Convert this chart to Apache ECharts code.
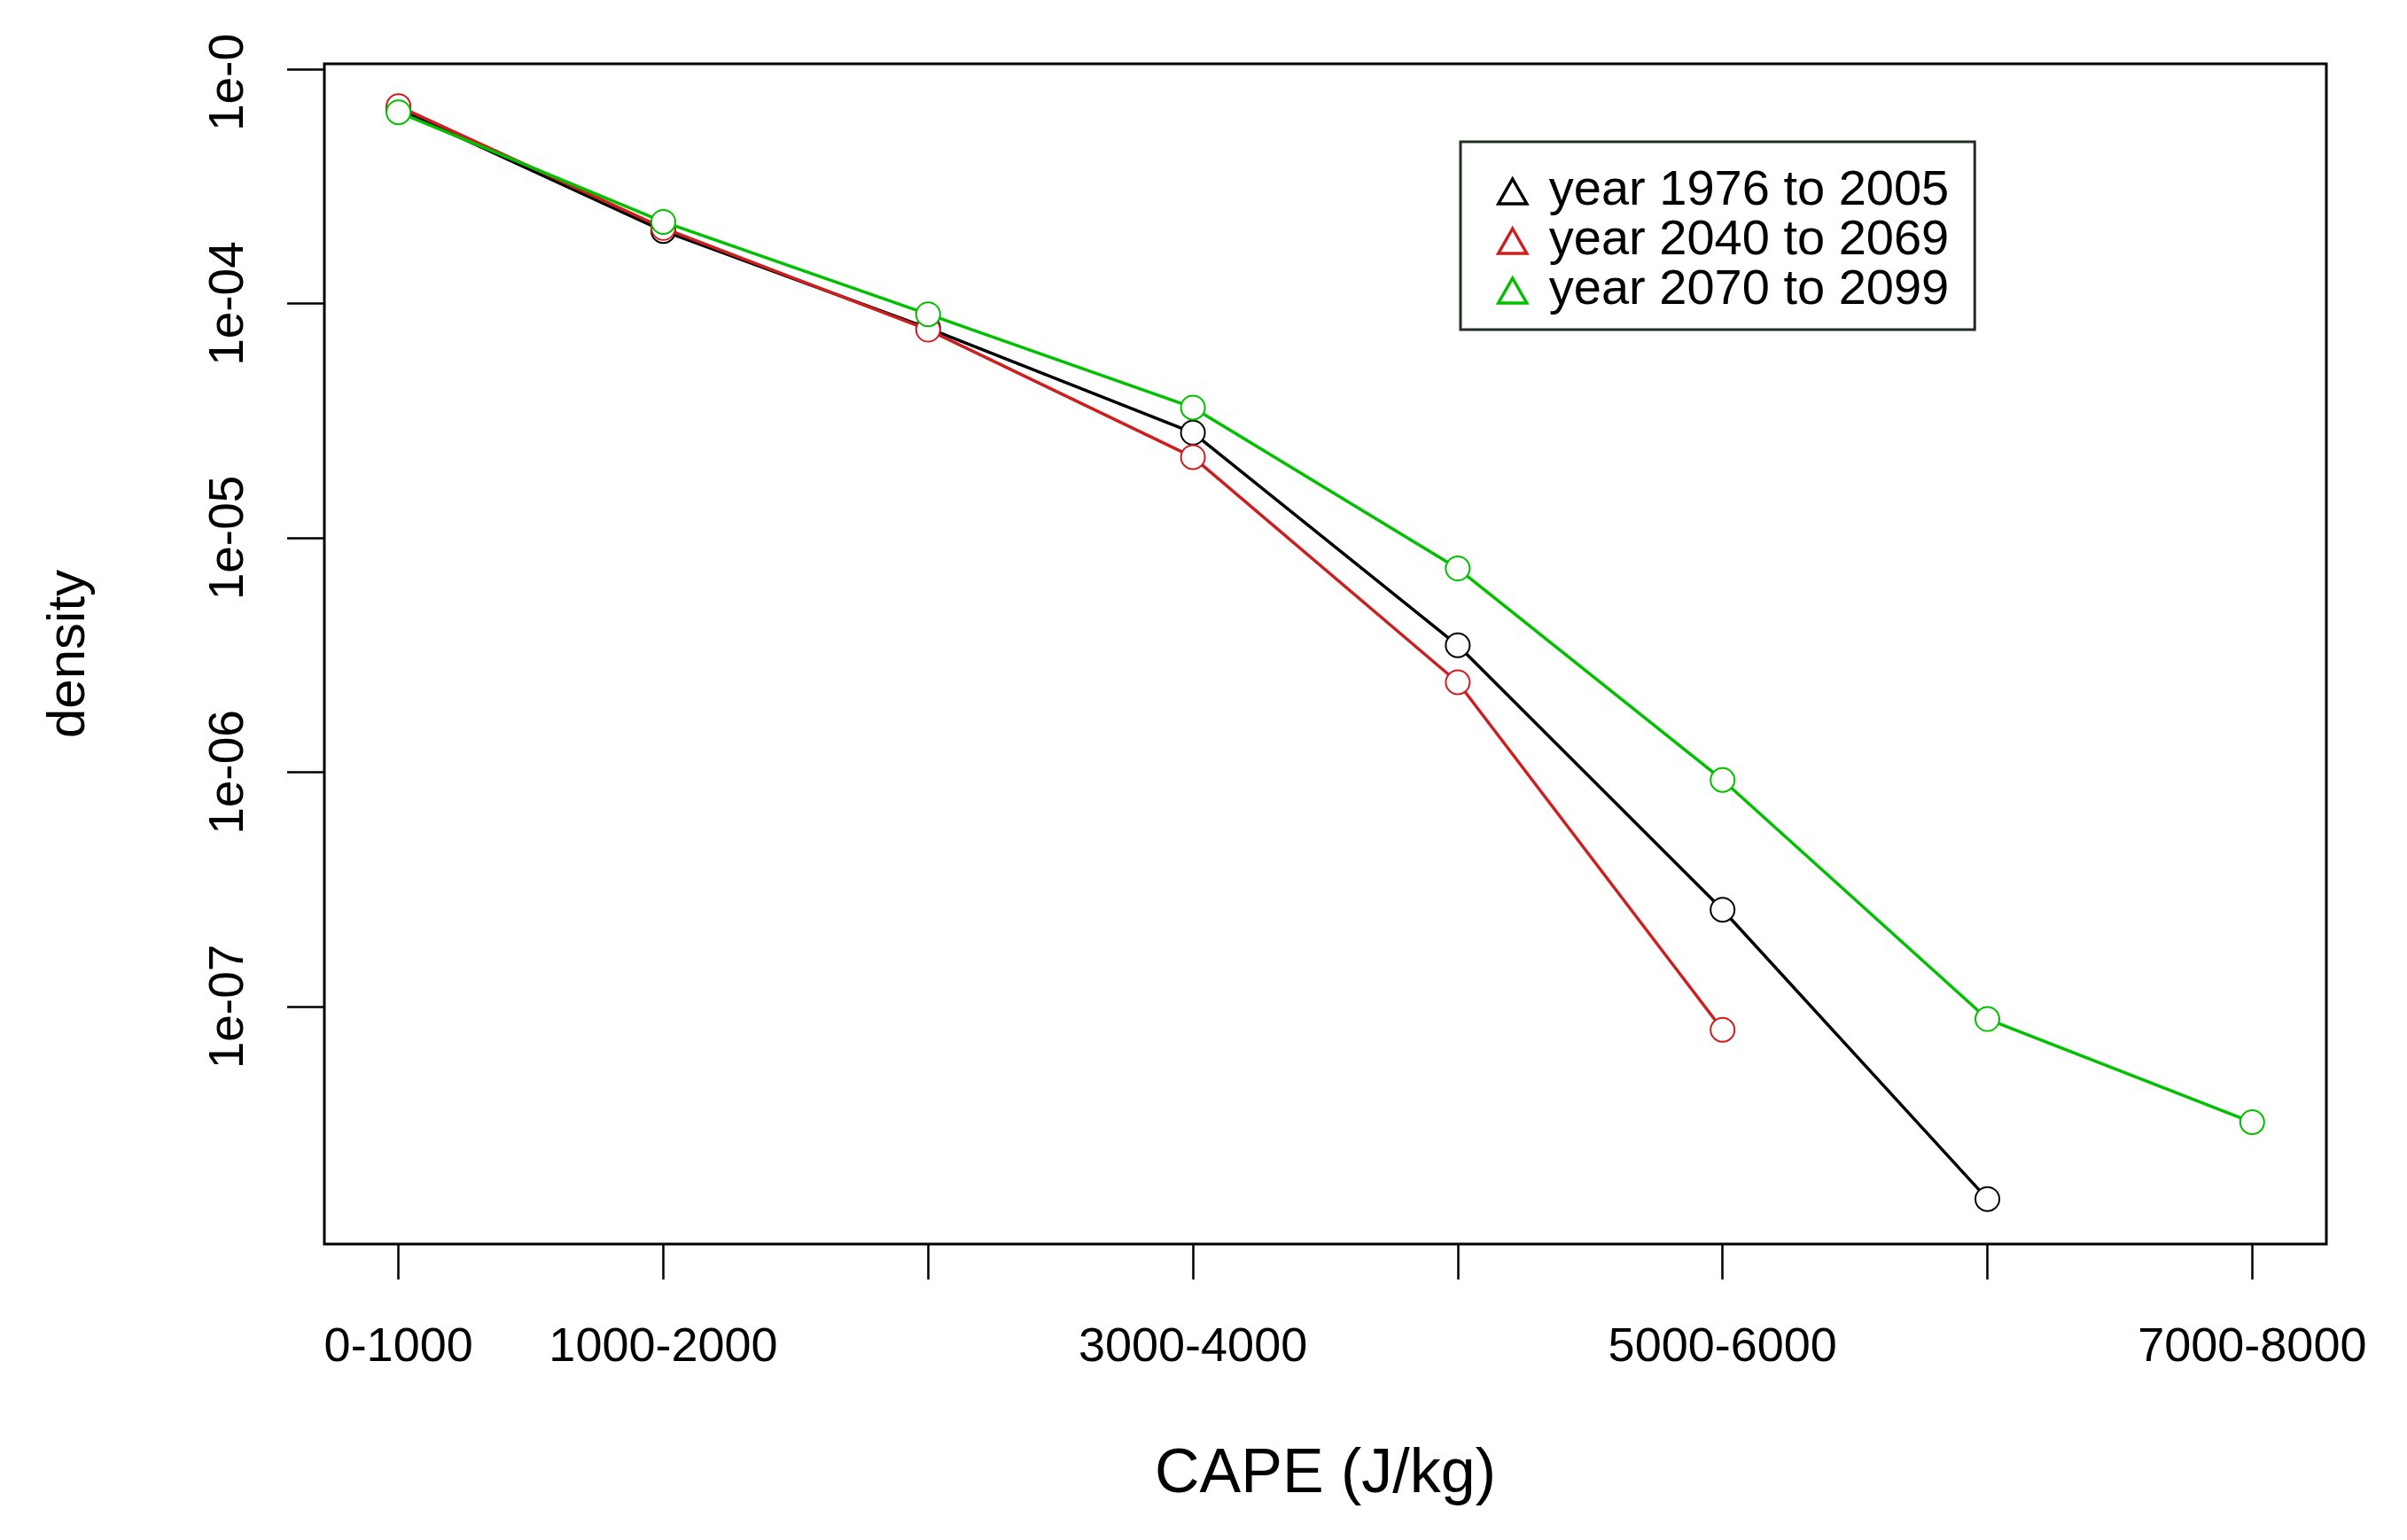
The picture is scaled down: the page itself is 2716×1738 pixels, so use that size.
<!DOCTYPE html>
<html>
<head>
<meta charset="utf-8">
<script src="https://cdn.jsdelivr.net/npm/echarts@6/dist/echarts.min.js"></script>
<style>
html,body{margin:0;padding:0;background:#fff;}
#chart{width:2716px;height:1738px;}
</style>
</head>
<body>
<div id="chart"></div>
<script>
// ---- data ----
const categories = ['0-1000','1000-2000','2000-3000','3000-4000','4000-5000','5000-6000','6000-7000','7000-8000'];
const shownLabelIdx = [0, 1, 3, 5, 7];
const seriesNames = ['year 1976 to 2005', 'year 2040 to 2069', 'year 2070 to 2099'];
const seriesColors = ['#000000', '#cc1f1f', '#00c000'];
const values1976 = [6.75e-4, 2.04e-4, 7.85e-5, 2.81e-5, 3.48e-6, 2.59e-7, 1.51e-8];
const values2040 = [6.95e-4, 2.10e-4, 7.73e-5, 2.21e-5, 2.42e-6, 7.96e-8];
const values2070 = [6.55e-4, 2.23e-4, 9.00e-5, 3.60e-5, 7.40e-6, 9.27e-7, 8.85e-8, 3.21e-8];
const yTickValues = [1e-3, 1e-4, 1e-5, 1e-6, 1e-7];
const yTickLabels = ['1e-0', '1e-04', '1e-05', '1e-06', '1e-07'];

const allSeries = [values1976, values2040, values2070];
const FONT = "'Liberation Sans', Arial, sans-serif";

const chart = echarts.init(document.getElementById('chart'), null, {renderer: 'canvas'});

function yLabel(v) {
  for (let i = 0; i < yTickValues.length; i++) {
    if (Math.abs(Math.log10(v) - Math.log10(yTickValues[i])) < 1e-6) {
      return i === 0 ? '{t|' + yTickLabels[i] + '}' : yTickLabels[i];
    }
  }
  return '';
}

const option = {
  backgroundColor: '#ffffff',
  animation: false,
  grid: {
    left: 366, right: 91, top: 72, bottom: 334,
    show: true, borderColor: '#000', borderWidth: 3, backgroundColor: 'transparent'
  },
  legend: {
    orient: 'vertical',
    left: 1648, top: 160,
    padding: [28, 29, 16, 41],
    backgroundColor: '#ffffff',
    borderColor: '#203020',
    borderWidth: 3,
    itemWidth: 32, itemHeight: 28,
    itemGap: 0,
    textStyle: {fontFamily: FONT, fontSize: 56, color: '#000', lineHeight: 54, padding: [0, 0, 0, 20]},
    data: seriesNames.map((n, i) => ({
      name: n, icon: 'triangle',
      itemStyle: {color: 'rgba(255,255,255,0)', borderColor: seriesColors[i], borderWidth: 3.5}
    }))
  },
  xAxis: {
    type: 'value',
    min: -0.28, max: 7.28,
    name: 'CAPE (J/kg)',
    nameLocation: 'middle',
    nameGap: 226,
    nameTextStyle: {fontFamily: FONT, fontSize: 70, color: '#000'},
    axisLine: {show: false, onZero: false},
    splitLine: {show: false},
    axisTick: {show: true, inside: false, length: 40, lineStyle: {color: '#000', width: 2.5},
      customValues: categories.map((c, i) => i)},
    axisLabel: {
      show: true, margin: 90, fontFamily: FONT, fontSize: 54, color: '#000',
      customValues: shownLabelIdx,
      formatter: v => categories[Math.round(v)] || ''
    }
  },
  yAxis: {
    type: 'log',
    logBase: 10,
    min: 9.7e-9, max: 1.054e-3,
    name: 'density',
    nameLocation: 'middle',
    nameGap: 258,
    nameTextStyle: {fontFamily: FONT, fontSize: 60, color: '#000'},
    axisLine: {show: false, onZero: false},
    splitLine: {show: false},
    axisTick: {show: true, inside: false, length: 42, lineStyle: {color: '#000', width: 2.5},
      customValues: yTickValues},
    axisLabel: {
      show: true, rotate: 90, margin: 80, fontFamily: FONT, fontSize: 55, color: '#000',
      customValues: yTickValues,
      formatter: yLabel,
      rich: {t: {fontFamily: FONT, fontSize: 55, color: '#000', padding: [0, 30, 0, 0]}}
    }
  },
  series: allSeries.map((vals, si) => ({
    name: seriesNames[si],
    type: 'line',
    data: vals.map((v, i) => [i, v]),
    symbol: 'emptyCircle',
    symbolSize: 27,
    showAllSymbol: true,
    lineStyle: {color: seriesColors[si], width: 3.5},
    itemStyle: {color: seriesColors[si], borderColor: seriesColors[si], borderWidth: 3.5},
    z: 2 + si
  }))
};
chart.setOption(option);
</script>
</body>
</html>
